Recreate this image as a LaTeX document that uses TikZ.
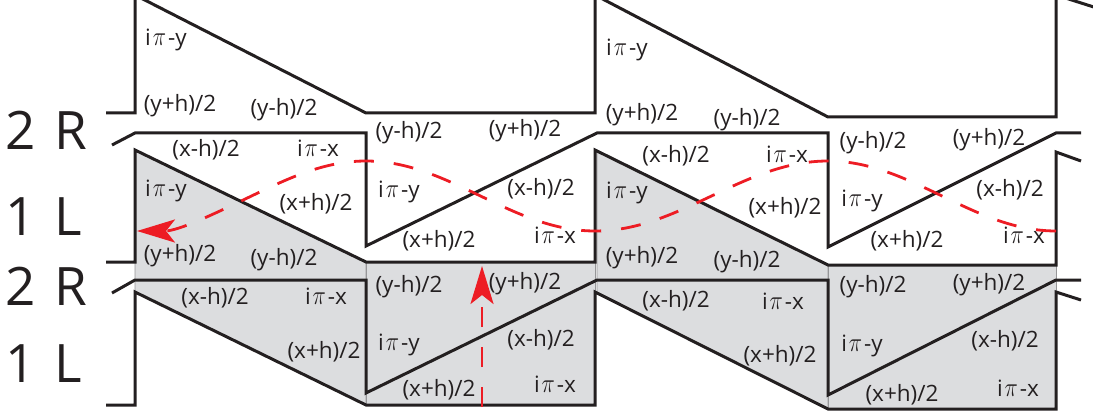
\documentclass[tikz,border=0pt]{standalone}
\usepackage{fontspec}
\setmainfont{Open Sans}
\usetikzlibrary{arrows.meta}
\definecolor{ink}{RGB}{35,31,32}
\definecolor{redline}{RGB}{237,28,36}
\definecolor{panel}{RGB}{220,221,223}
\definecolor{paneledge}{RGB}{150,150,152}
\newcommand{\ipi}[1]{i\hspace{2pt}\scalebox{1.08}[1.3]{$\pi$}\hspace{2pt}-#1}
\begin{document}
\begin{tikzpicture}[x=1pt,y=-1pt,
  lbl/.style={font=\fontsize{22.5}{27}\selectfont, inner sep=0pt, text height=17pt, text depth=5.4pt, anchor=center, text=ink},
  big/.style={font=\fontsize{53}{60}\selectfont, inner sep=0pt, anchor=base west, text=ink},
  wall/.style={draw=ink, line width=3pt},
  panelfill/.style={fill=panel, draw=paneledge, line width=0.8pt},
  redpath/.style={draw=redline, line width=2.8pt, dash pattern=on 20pt off 20pt},
  redtip/.style={-{Stealth[length=38pt,width=23pt,inset=9pt,fill=redline]}}
]
\useasboundingbox (0,0) rectangle (1093,417);
\clip (0,0) rectangle (1093,417);

% grey panels
\path[panelfill] (135,150) -- (366,262) -- (366,405) -- (135,292) -- cycle;
\path[panelfill] (366,262) -- (595,262) -- (595,405) -- (366,405) -- cycle;
\path[panelfill] (597,150) -- (828,265) -- (828,409) -- (597,292) -- cycle;
\path[panelfill] (828,265) -- (1056,265) -- (1056,409) -- (828,409) -- cycle;

% black lines
\draw[wall] (106,113) -- (135,113) -- (135,-5) -- (366,113) -- (595,113) -- (595,-5) -- (828,117) -- (1056,117) -- (1056,-5) -- (1100,9);
\draw[wall] (112,145) -- (135,133) -- (366,133) -- (366,246) -- (597,133) -- (828,133) -- (828,247) -- (1056,133) -- (1081,133);
\draw[wall] (106,262) -- (135,262) -- (135,150) -- (366,262) -- (595,262) -- (595,150) -- (828,265) -- (1056,265) -- (1056,152) -- (1081,161);
\draw[wall] (112,293) -- (135,280) -- (366,280) -- (366,393) -- (597,280) -- (828,280) -- (828,395) -- (1056,280) -- (1081,280);
\draw[wall] (106,405) -- (135,405) -- (135,292) -- (366,405) -- (595,405) -- (595,292) -- (828,409) -- (1056,409) -- (1056,292) -- (1081,300);

% big labels
\node[big] (r1) at (5,150) {2\hspace{19pt}R};
\node[big] (l1) at (5,236) {1\hspace{19pt}L};
\node[big] (r2) at (5,305) {2\hspace{19pt}R};
\node[big] (l2) at (5,382) {1\hspace{19pt}L};

% panel A
\node[lbl] (a1) at (166,40) {\ipi{y}};
\node[lbl] (a2) at (180,106) {(y+h)/2};
\node[lbl] (a3) at (284,110) {(y-h)/2};
\node[lbl] (a4) at (206,151) {(x-h)/2};
\node[lbl] (a5) at (318,151) {\ipi{x}};
\node[lbl] (a6) at (166,191) {\ipi{y}};
\node[lbl] (a7) at (316,205) {(x+h)/2};
\node[lbl] (a8) at (180,256) {(y+h)/2};
\node[lbl] (a9) at (284,260) {(y-h)/2};
\node[lbl] (a10) at (215,299) {(x-h)/2};
\node[lbl] (a11) at (326,299) {\ipi{x}};
\node[lbl] (a12) at (324,353) {(x+h)/2};
% panel B
\node[lbl] (b1) at (409,133) {(y-h)/2};
\node[lbl] (b2) at (525,131) {(y+h)/2};
\node[lbl] (b3) at (399,192) {\ipi{y}};
\node[lbl] (b4) at (541,190) {(x-h)/2};
\node[lbl] (b5) at (439,242) {(x+h)/2};
\node[lbl] (b6) at (555,238) {\ipi{x}};
\node[lbl] (b7) at (409,287) {(y-h)/2};
\node[lbl] (b8) at (525,284) {(y+h)/2};
\node[lbl] (b9) at (399,345) {\ipi{y}};
\node[lbl] (b10) at (541,341) {(x-h)/2};
\node[lbl] (b11) at (439,391) {(x+h)/2};
\node[lbl] (b12) at (555,387) {\ipi{x}};
% panel C
\node[lbl] (c1) at (627,50) {\ipi{y}};
\node[lbl] (c2) at (642,115) {(y+h)/2};
\node[lbl] (c3) at (747,120) {(y-h)/2};
\node[lbl] (c4) at (676,157) {(x-h)/2};
\node[lbl] (c5) at (787,157) {\ipi{x}};
\node[lbl] (c6) at (627,193) {\ipi{y}};
\node[lbl] (c7) at (785,209) {(x+h)/2};
\node[lbl] (c8) at (642,258) {(y+h)/2};
\node[lbl] (c9) at (747,262) {(y-h)/2};
\node[lbl] (c10) at (676,302) {(x-h)/2};
\node[lbl] (c11) at (783,304) {\ipi{x}};
\node[lbl] (c12) at (780,357) {(x+h)/2};
% panel D
\node[lbl] (d1) at (873,143) {(y-h)/2};
\node[lbl] (d2) at (989,140) {(y+h)/2};
\node[lbl] (d3) at (862,201) {\ipi{y}};
\node[lbl] (d4) at (1010,191) {(x-h)/2};
\node[lbl] (d5) at (907,242) {(x+h)/2};
\node[lbl] (d6) at (1024,238) {\ipi{x}};
\node[lbl] (d7) at (873,287) {(y-h)/2};
\node[lbl] (d8) at (989,285) {(y+h)/2};
\node[lbl] (d9) at (862,346) {\ipi{y}};
\node[lbl] (d10) at (1005,342) {(x-h)/2};
\node[lbl] (d11) at (902,396) {(x+h)/2};
\node[lbl] (d12) at (1018,391) {\ipi{x}};

% red dashed paths
\coordinate (cs) at (1056,231);
\coordinate (ce) at (137,231);
\draw[redpath, redtip] (cs) cos (942,196) sin (828,161) cos (711.5,196) sin (595,231)
  cos (480.5,196) sin (366,161) cos (251.5,196) sin (ce);
\coordinate (vs) at (482,407);
\coordinate (ve) at (482,266);
\draw[redpath, redtip] (vs) -- (ve);
\end{tikzpicture}
\end{document}
